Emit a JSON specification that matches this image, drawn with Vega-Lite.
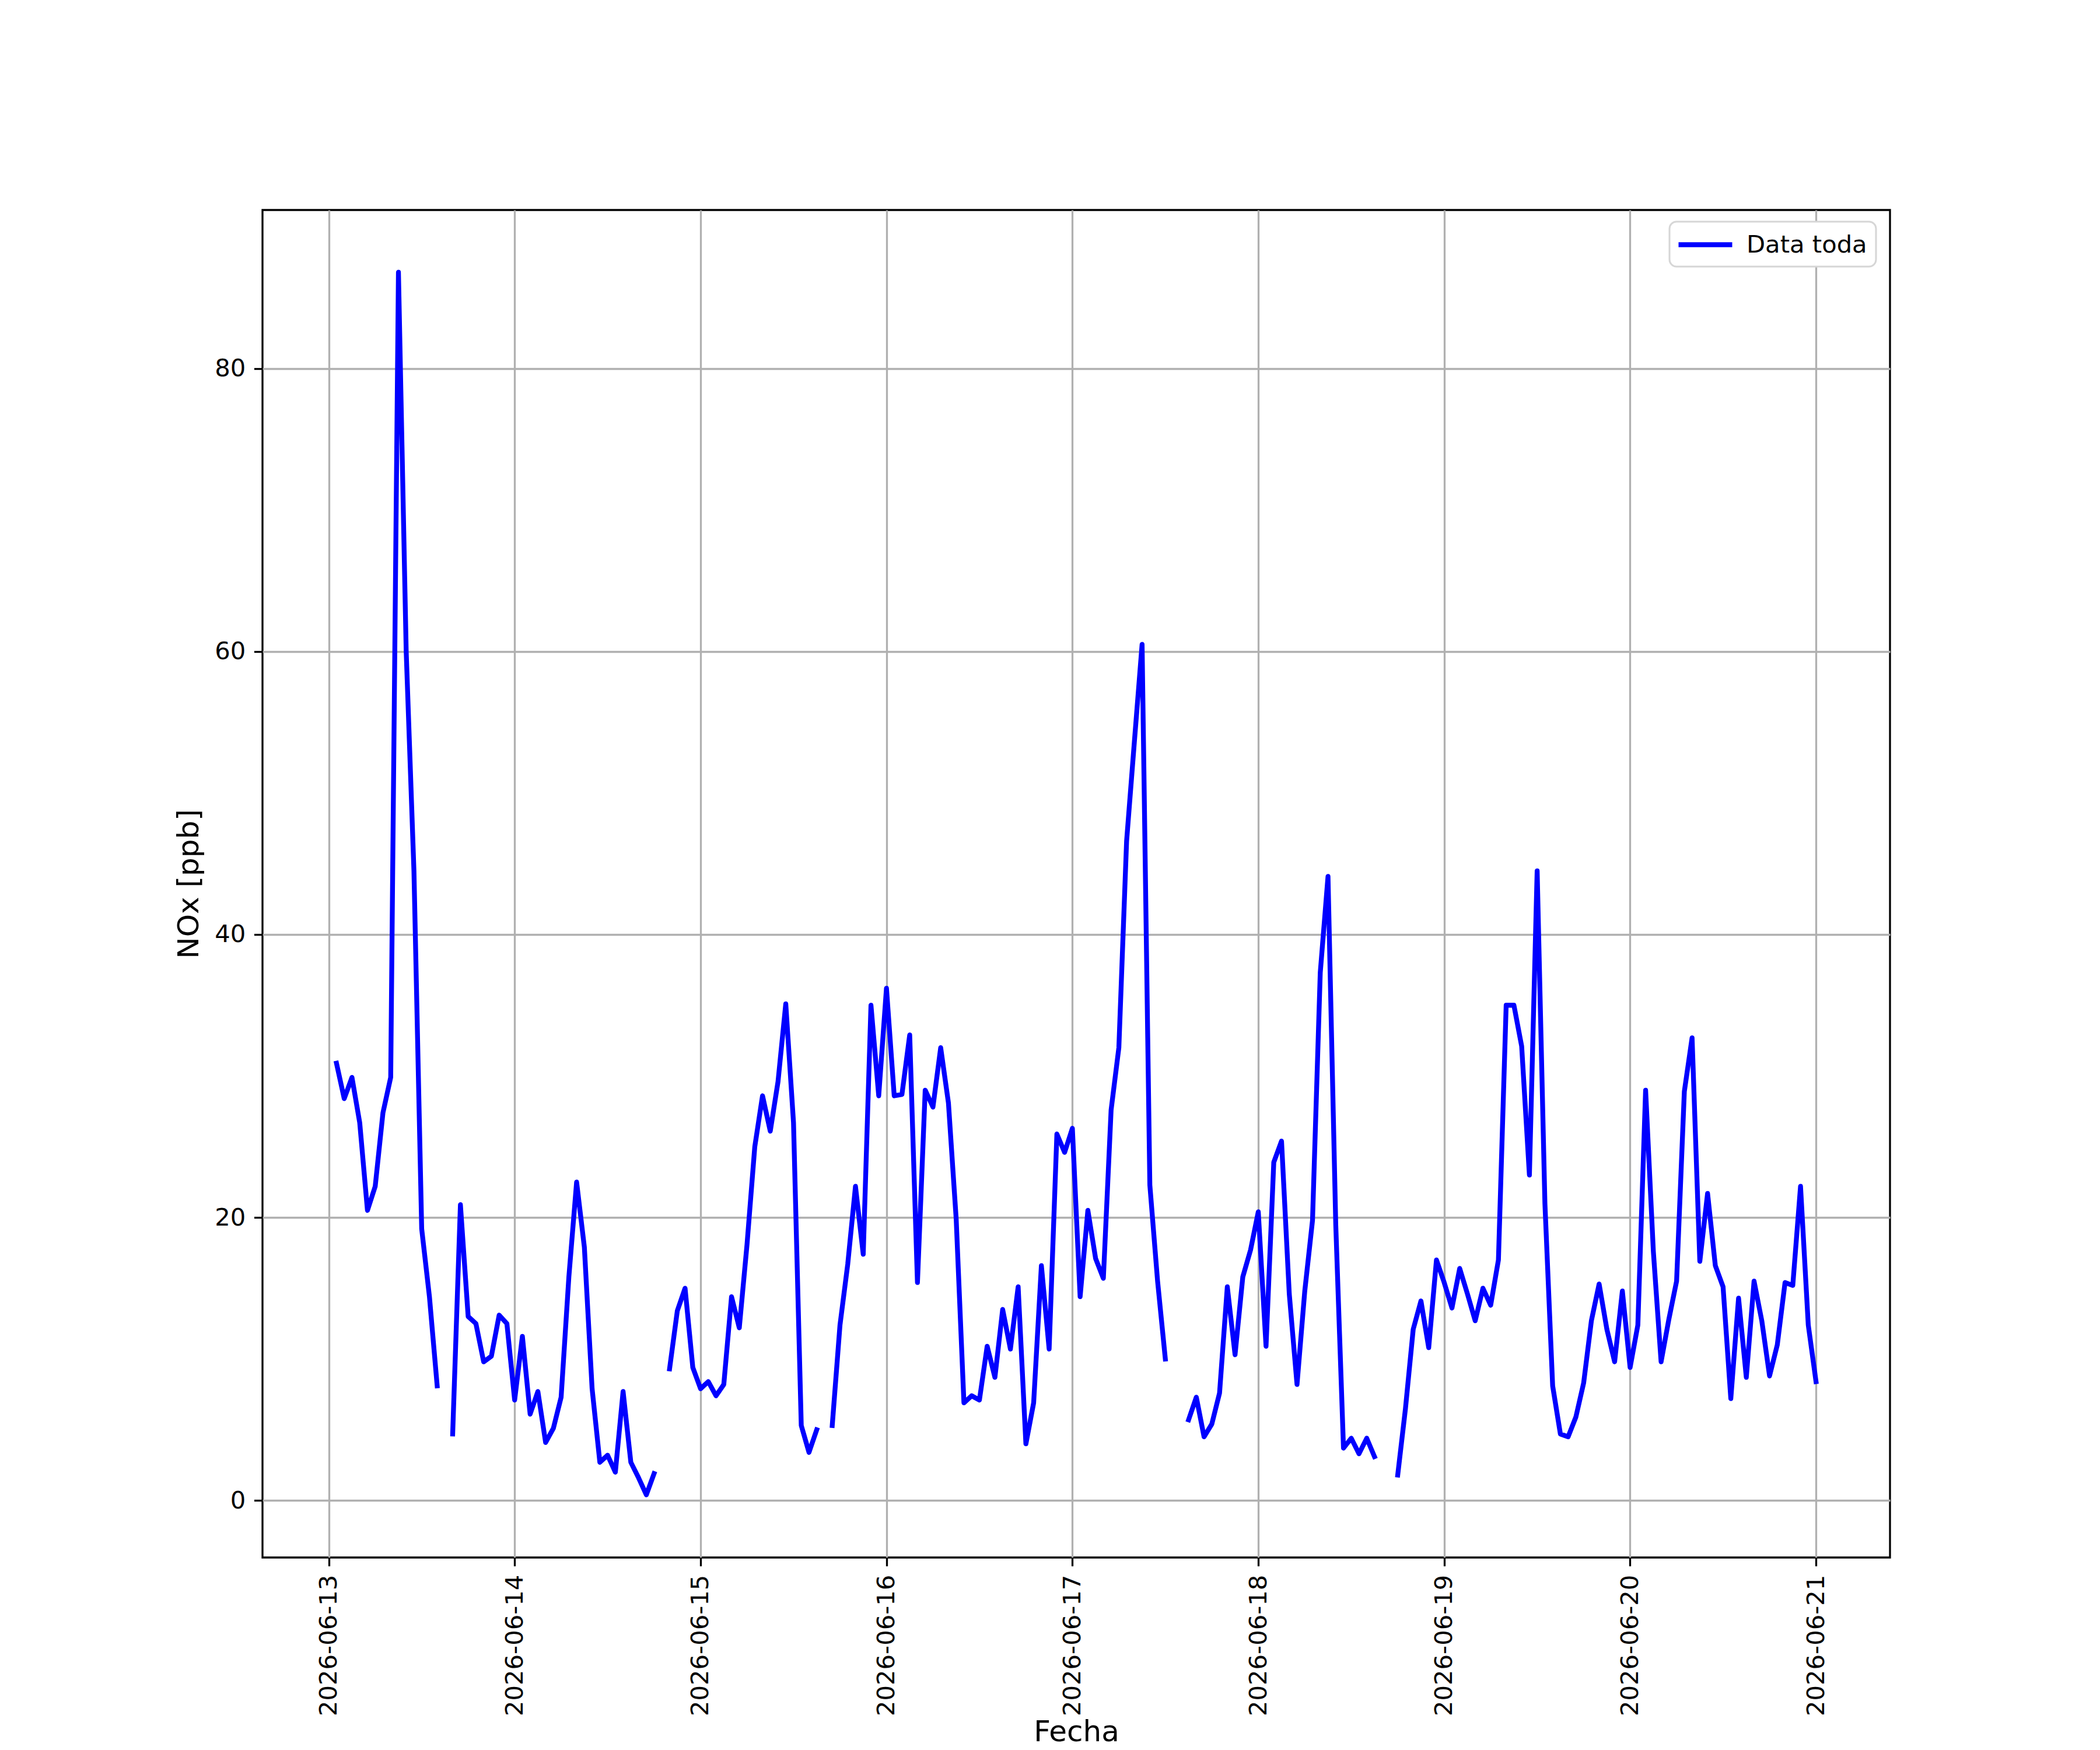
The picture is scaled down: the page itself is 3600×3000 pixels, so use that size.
{
  "$schema": "https://vega.github.io/schema/vega-lite/v6.json",
  "width": 2790,
  "height": 2310,
  "autosize": {"type": "none"},
  "padding": {"left": 450, "top": 360, "right": 360, "bottom": 330},
  "background": "white",
  "data": {
    "values": [
      {"fecha": "2026-06-13T01:00:00", "nox": 30.9},
      {"fecha": "2026-06-13T02:00:00", "nox": 28.4},
      {"fecha": "2026-06-13T03:00:00", "nox": 29.9},
      {"fecha": "2026-06-13T04:00:00", "nox": 26.7},
      {"fecha": "2026-06-13T05:00:00", "nox": 20.5},
      {"fecha": "2026-06-13T06:00:00", "nox": 22.2},
      {"fecha": "2026-06-13T07:00:00", "nox": 27.4},
      {"fecha": "2026-06-13T08:00:00", "nox": 29.9},
      {"fecha": "2026-06-13T09:00:00", "nox": 86.8},
      {"fecha": "2026-06-13T10:00:00", "nox": 60.0},
      {"fecha": "2026-06-13T11:00:00", "nox": 44.5},
      {"fecha": "2026-06-13T12:00:00", "nox": 19.2},
      {"fecha": "2026-06-13T13:00:00", "nox": 14.4},
      {"fecha": "2026-06-13T14:00:00", "nox": 8.1},
      {"fecha": "2026-06-13T15:00:00", "nox": null},
      {"fecha": "2026-06-13T16:00:00", "nox": 4.7},
      {"fecha": "2026-06-13T17:00:00", "nox": 20.9},
      {"fecha": "2026-06-13T18:00:00", "nox": 13.0},
      {"fecha": "2026-06-13T19:00:00", "nox": 12.5},
      {"fecha": "2026-06-13T20:00:00", "nox": 9.8},
      {"fecha": "2026-06-13T21:00:00", "nox": 10.2},
      {"fecha": "2026-06-13T22:00:00", "nox": 13.1},
      {"fecha": "2026-06-13T23:00:00", "nox": 12.5},
      {"fecha": "2026-06-14T00:00:00", "nox": 7.1},
      {"fecha": "2026-06-14T01:00:00", "nox": 11.6},
      {"fecha": "2026-06-14T02:00:00", "nox": 6.1},
      {"fecha": "2026-06-14T03:00:00", "nox": 7.7},
      {"fecha": "2026-06-14T04:00:00", "nox": 4.1},
      {"fecha": "2026-06-14T05:00:00", "nox": 5.1},
      {"fecha": "2026-06-14T06:00:00", "nox": 7.3},
      {"fecha": "2026-06-14T07:00:00", "nox": 15.8},
      {"fecha": "2026-06-14T08:00:00", "nox": 22.5},
      {"fecha": "2026-06-14T09:00:00", "nox": 17.9},
      {"fecha": "2026-06-14T10:00:00", "nox": 7.9},
      {"fecha": "2026-06-14T11:00:00", "nox": 2.7},
      {"fecha": "2026-06-14T12:00:00", "nox": 3.2},
      {"fecha": "2026-06-14T13:00:00", "nox": 2.0},
      {"fecha": "2026-06-14T14:00:00", "nox": 7.7},
      {"fecha": "2026-06-14T15:00:00", "nox": 2.7},
      {"fecha": "2026-06-14T16:00:00", "nox": 1.6},
      {"fecha": "2026-06-14T17:00:00", "nox": 0.4},
      {"fecha": "2026-06-14T18:00:00", "nox": 1.9},
      {"fecha": "2026-06-14T19:00:00", "nox": null},
      {"fecha": "2026-06-14T20:00:00", "nox": 9.3},
      {"fecha": "2026-06-14T21:00:00", "nox": 13.4},
      {"fecha": "2026-06-14T22:00:00", "nox": 15.0},
      {"fecha": "2026-06-14T23:00:00", "nox": 9.4},
      {"fecha": "2026-06-15T00:00:00", "nox": 7.9},
      {"fecha": "2026-06-15T01:00:00", "nox": 8.4},
      {"fecha": "2026-06-15T02:00:00", "nox": 7.4},
      {"fecha": "2026-06-15T03:00:00", "nox": 8.2},
      {"fecha": "2026-06-15T04:00:00", "nox": 14.4},
      {"fecha": "2026-06-15T05:00:00", "nox": 12.2},
      {"fecha": "2026-06-15T06:00:00", "nox": 18.1},
      {"fecha": "2026-06-15T07:00:00", "nox": 25.0},
      {"fecha": "2026-06-15T08:00:00", "nox": 28.6},
      {"fecha": "2026-06-15T09:00:00", "nox": 26.1},
      {"fecha": "2026-06-15T10:00:00", "nox": 29.6},
      {"fecha": "2026-06-15T11:00:00", "nox": 35.1},
      {"fecha": "2026-06-15T12:00:00", "nox": 26.7},
      {"fecha": "2026-06-15T13:00:00", "nox": 5.3},
      {"fecha": "2026-06-15T14:00:00", "nox": 3.4},
      {"fecha": "2026-06-15T15:00:00", "nox": 5.0},
      {"fecha": "2026-06-15T16:00:00", "nox": null},
      {"fecha": "2026-06-15T17:00:00", "nox": 5.3},
      {"fecha": "2026-06-15T18:00:00", "nox": 12.4},
      {"fecha": "2026-06-15T19:00:00", "nox": 16.7},
      {"fecha": "2026-06-15T20:00:00", "nox": 22.2},
      {"fecha": "2026-06-15T21:00:00", "nox": 17.4},
      {"fecha": "2026-06-15T22:00:00", "nox": 35.0},
      {"fecha": "2026-06-15T23:00:00", "nox": 28.6},
      {"fecha": "2026-06-16T00:00:00", "nox": 36.2},
      {"fecha": "2026-06-16T01:00:00", "nox": 28.6},
      {"fecha": "2026-06-16T02:00:00", "nox": 28.7},
      {"fecha": "2026-06-16T03:00:00", "nox": 32.9},
      {"fecha": "2026-06-16T04:00:00", "nox": 15.4},
      {"fecha": "2026-06-16T05:00:00", "nox": 29.0},
      {"fecha": "2026-06-16T06:00:00", "nox": 27.8},
      {"fecha": "2026-06-16T07:00:00", "nox": 32.0},
      {"fecha": "2026-06-16T08:00:00", "nox": 28.1},
      {"fecha": "2026-06-16T09:00:00", "nox": 19.9},
      {"fecha": "2026-06-16T10:00:00", "nox": 6.9},
      {"fecha": "2026-06-16T11:00:00", "nox": 7.4},
      {"fecha": "2026-06-16T12:00:00", "nox": 7.1},
      {"fecha": "2026-06-16T13:00:00", "nox": 10.9},
      {"fecha": "2026-06-16T14:00:00", "nox": 8.7},
      {"fecha": "2026-06-16T15:00:00", "nox": 13.5},
      {"fecha": "2026-06-16T16:00:00", "nox": 10.7},
      {"fecha": "2026-06-16T17:00:00", "nox": 15.1},
      {"fecha": "2026-06-16T18:00:00", "nox": 4.0},
      {"fecha": "2026-06-16T19:00:00", "nox": 6.9},
      {"fecha": "2026-06-16T20:00:00", "nox": 16.6},
      {"fecha": "2026-06-16T21:00:00", "nox": 10.7},
      {"fecha": "2026-06-16T22:00:00", "nox": 25.9},
      {"fecha": "2026-06-16T23:00:00", "nox": 24.6},
      {"fecha": "2026-06-17T00:00:00", "nox": 26.3},
      {"fecha": "2026-06-17T01:00:00", "nox": 14.4},
      {"fecha": "2026-06-17T02:00:00", "nox": 20.5},
      {"fecha": "2026-06-17T03:00:00", "nox": 17.1},
      {"fecha": "2026-06-17T04:00:00", "nox": 15.7},
      {"fecha": "2026-06-17T05:00:00", "nox": 27.6},
      {"fecha": "2026-06-17T06:00:00", "nox": 32.0},
      {"fecha": "2026-06-17T07:00:00", "nox": 46.6},
      {"fecha": "2026-06-17T08:00:00", "nox": 53.6},
      {"fecha": "2026-06-17T09:00:00", "nox": 60.5},
      {"fecha": "2026-06-17T10:00:00", "nox": 22.3},
      {"fecha": "2026-06-17T11:00:00", "nox": 15.5},
      {"fecha": "2026-06-17T12:00:00", "nox": 10.0},
      {"fecha": "2026-06-17T13:00:00", "nox": null},
      {"fecha": "2026-06-17T14:00:00", "nox": null},
      {"fecha": "2026-06-17T15:00:00", "nox": 5.7},
      {"fecha": "2026-06-17T16:00:00", "nox": 7.3},
      {"fecha": "2026-06-17T17:00:00", "nox": 4.5},
      {"fecha": "2026-06-17T18:00:00", "nox": 5.4},
      {"fecha": "2026-06-17T19:00:00", "nox": 7.6},
      {"fecha": "2026-06-17T20:00:00", "nox": 15.1},
      {"fecha": "2026-06-17T21:00:00", "nox": 10.3},
      {"fecha": "2026-06-17T22:00:00", "nox": 15.8},
      {"fecha": "2026-06-17T23:00:00", "nox": 17.7},
      {"fecha": "2026-06-18T00:00:00", "nox": 20.4},
      {"fecha": "2026-06-18T01:00:00", "nox": 10.9},
      {"fecha": "2026-06-18T02:00:00", "nox": 23.9},
      {"fecha": "2026-06-18T03:00:00", "nox": 25.4},
      {"fecha": "2026-06-18T04:00:00", "nox": 14.6},
      {"fecha": "2026-06-18T05:00:00", "nox": 8.2},
      {"fecha": "2026-06-18T06:00:00", "nox": 14.8},
      {"fecha": "2026-06-18T07:00:00", "nox": 19.8},
      {"fecha": "2026-06-18T08:00:00", "nox": 37.3},
      {"fecha": "2026-06-18T09:00:00", "nox": 44.1},
      {"fecha": "2026-06-18T10:00:00", "nox": 19.5},
      {"fecha": "2026-06-18T11:00:00", "nox": 3.7},
      {"fecha": "2026-06-18T12:00:00", "nox": 4.4},
      {"fecha": "2026-06-18T13:00:00", "nox": 3.3},
      {"fecha": "2026-06-18T14:00:00", "nox": 4.4},
      {"fecha": "2026-06-18T15:00:00", "nox": 3.1},
      {"fecha": "2026-06-18T16:00:00", "nox": null},
      {"fecha": "2026-06-18T17:00:00", "nox": null},
      {"fecha": "2026-06-18T18:00:00", "nox": 1.8},
      {"fecha": "2026-06-18T19:00:00", "nox": 6.5},
      {"fecha": "2026-06-18T20:00:00", "nox": 12.1},
      {"fecha": "2026-06-18T21:00:00", "nox": 14.1},
      {"fecha": "2026-06-18T22:00:00", "nox": 10.8},
      {"fecha": "2026-06-18T23:00:00", "nox": 17.0},
      {"fecha": "2026-06-19T00:00:00", "nox": 15.4},
      {"fecha": "2026-06-19T01:00:00", "nox": 13.6},
      {"fecha": "2026-06-19T02:00:00", "nox": 16.4},
      {"fecha": "2026-06-19T03:00:00", "nox": 14.6},
      {"fecha": "2026-06-19T04:00:00", "nox": 12.7},
      {"fecha": "2026-06-19T05:00:00", "nox": 15.0},
      {"fecha": "2026-06-19T06:00:00", "nox": 13.8},
      {"fecha": "2026-06-19T07:00:00", "nox": 17.0},
      {"fecha": "2026-06-19T08:00:00", "nox": 35.0},
      {"fecha": "2026-06-19T09:00:00", "nox": 35.0},
      {"fecha": "2026-06-19T10:00:00", "nox": 32.1},
      {"fecha": "2026-06-19T11:00:00", "nox": 23.0},
      {"fecha": "2026-06-19T12:00:00", "nox": 44.5},
      {"fecha": "2026-06-19T13:00:00", "nox": 21.0},
      {"fecha": "2026-06-19T14:00:00", "nox": 8.1},
      {"fecha": "2026-06-19T15:00:00", "nox": 4.7},
      {"fecha": "2026-06-19T16:00:00", "nox": 4.5},
      {"fecha": "2026-06-19T17:00:00", "nox": 5.9},
      {"fecha": "2026-06-19T18:00:00", "nox": 8.3},
      {"fecha": "2026-06-19T19:00:00", "nox": 12.7},
      {"fecha": "2026-06-19T20:00:00", "nox": 15.3},
      {"fecha": "2026-06-19T21:00:00", "nox": 12.1},
      {"fecha": "2026-06-19T22:00:00", "nox": 9.8},
      {"fecha": "2026-06-19T23:00:00", "nox": 14.8},
      {"fecha": "2026-06-20T00:00:00", "nox": 9.4},
      {"fecha": "2026-06-20T01:00:00", "nox": 12.4},
      {"fecha": "2026-06-20T02:00:00", "nox": 29.0},
      {"fecha": "2026-06-20T03:00:00", "nox": 17.6},
      {"fecha": "2026-06-20T04:00:00", "nox": 9.8},
      {"fecha": "2026-06-20T05:00:00", "nox": 12.8},
      {"fecha": "2026-06-20T06:00:00", "nox": 15.5},
      {"fecha": "2026-06-20T07:00:00", "nox": 28.9},
      {"fecha": "2026-06-20T08:00:00", "nox": 32.7},
      {"fecha": "2026-06-20T09:00:00", "nox": 16.9},
      {"fecha": "2026-06-20T10:00:00", "nox": 21.7},
      {"fecha": "2026-06-20T11:00:00", "nox": 16.6},
      {"fecha": "2026-06-20T12:00:00", "nox": 15.1},
      {"fecha": "2026-06-20T13:00:00", "nox": 7.2},
      {"fecha": "2026-06-20T14:00:00", "nox": 14.3},
      {"fecha": "2026-06-20T15:00:00", "nox": 8.7},
      {"fecha": "2026-06-20T16:00:00", "nox": 15.5},
      {"fecha": "2026-06-20T17:00:00", "nox": 12.7},
      {"fecha": "2026-06-20T18:00:00", "nox": 8.8},
      {"fecha": "2026-06-20T19:00:00", "nox": 11.0},
      {"fecha": "2026-06-20T20:00:00", "nox": 15.4},
      {"fecha": "2026-06-20T21:00:00", "nox": 15.2},
      {"fecha": "2026-06-20T22:00:00", "nox": 22.2},
      {"fecha": "2026-06-20T23:00:00", "nox": 12.4},
      {"fecha": "2026-06-21T00:00:00", "nox": 8.4}
    ]
  },
  "mark": {
    "type": "line",
    "strokeWidth": 8.3,
    "strokeJoin": "round",
    "strokeCap": "square",
    "invalid": "break-paths-filter-domains",
    "clip": true
  },
  "encoding": {
    "x": {
      "field": "fecha",
      "type": "temporal",
      "title": "Fecha",
      "scale": {
        "domain": [
          {"year": 2026, "month": 6, "date": 12, "hours": 15, "minutes": 27},
          {"year": 2026, "month": 6, "date": 21, "hours": 9, "minutes": 33}
        ]
      },
      "axis": {
        "values": [
          {"year": 2026, "month": 6, "date": 13},
          {"year": 2026, "month": 6, "date": 14},
          {"year": 2026, "month": 6, "date": 15},
          {"year": 2026, "month": 6, "date": 16},
          {"year": 2026, "month": 6, "date": 17},
          {"year": 2026, "month": 6, "date": 18},
          {"year": 2026, "month": 6, "date": 19},
          {"year": 2026, "month": 6, "date": 20},
          {"year": 2026, "month": 6, "date": 21}
        ],
        "format": "%Y-%m-%d",
        "labelAngle": -90,
        "titleBaseline": "top",
        "titleY": 274
      }
    },
    "y": {
      "field": "nox",
      "type": "quantitative",
      "title": "NOx [ppb]",
      "scale": {"domain": [-4.03, 91.2], "nice": false, "zero": false},
      "axis": {"values": [0, 20, 40, 60, 80], "titlePadding": 18}
    },
    "color": {
      "datum": "Data toda",
      "type": "nominal",
      "scale": {"range": ["#0000ff"]},
      "legend": {
        "title": null,
        "orient": "none",
        "legendX": 2412,
        "legendY": 20,
        "symbolType": "M-2.3,0H2.3",
        "symbolSize": 1600,
        "symbolStrokeWidth": 8.3,
        "symbolOffset": 22,
        "labelOffset": 46,
        "labelLimit": 0,
        "padding": 15,
        "fillColor": "white",
        "strokeColor": "#d6d6d6",
        "cornerRadius": 12,
        "encode": {
          "legend": {"update": {"strokeWidth": {"value": 3}}}
        }
      }
    }
  },
  "config": {
    "font": "DejaVu Sans",
    "view": {"stroke": "black", "strokeWidth": 3.3},
    "axis": {
      "domain": false,
      "grid": true,
      "gridColor": "#b0b0b0",
      "gridWidth": 3.3,
      "ticks": true,
      "tickColor": "black",
      "tickSize": 14.6,
      "tickWidth": 3.3,
      "labelFont": "DejaVu Sans",
      "labelFontSize": 41.7,
      "labelColor": "black",
      "labelPadding": 14.6,
      "labelLimit": 0,
      "labelFlush": false,
      "labelOverlap": false,
      "titleFont": "DejaVu Sans",
      "titleFontSize": 50,
      "titleFontWeight": "normal",
      "titleColor": "black"
    },
    "legend": {
      "labelFont": "DejaVu Sans",
      "labelFontSize": 41.7,
      "labelColor": "black"
    }
  }
}
